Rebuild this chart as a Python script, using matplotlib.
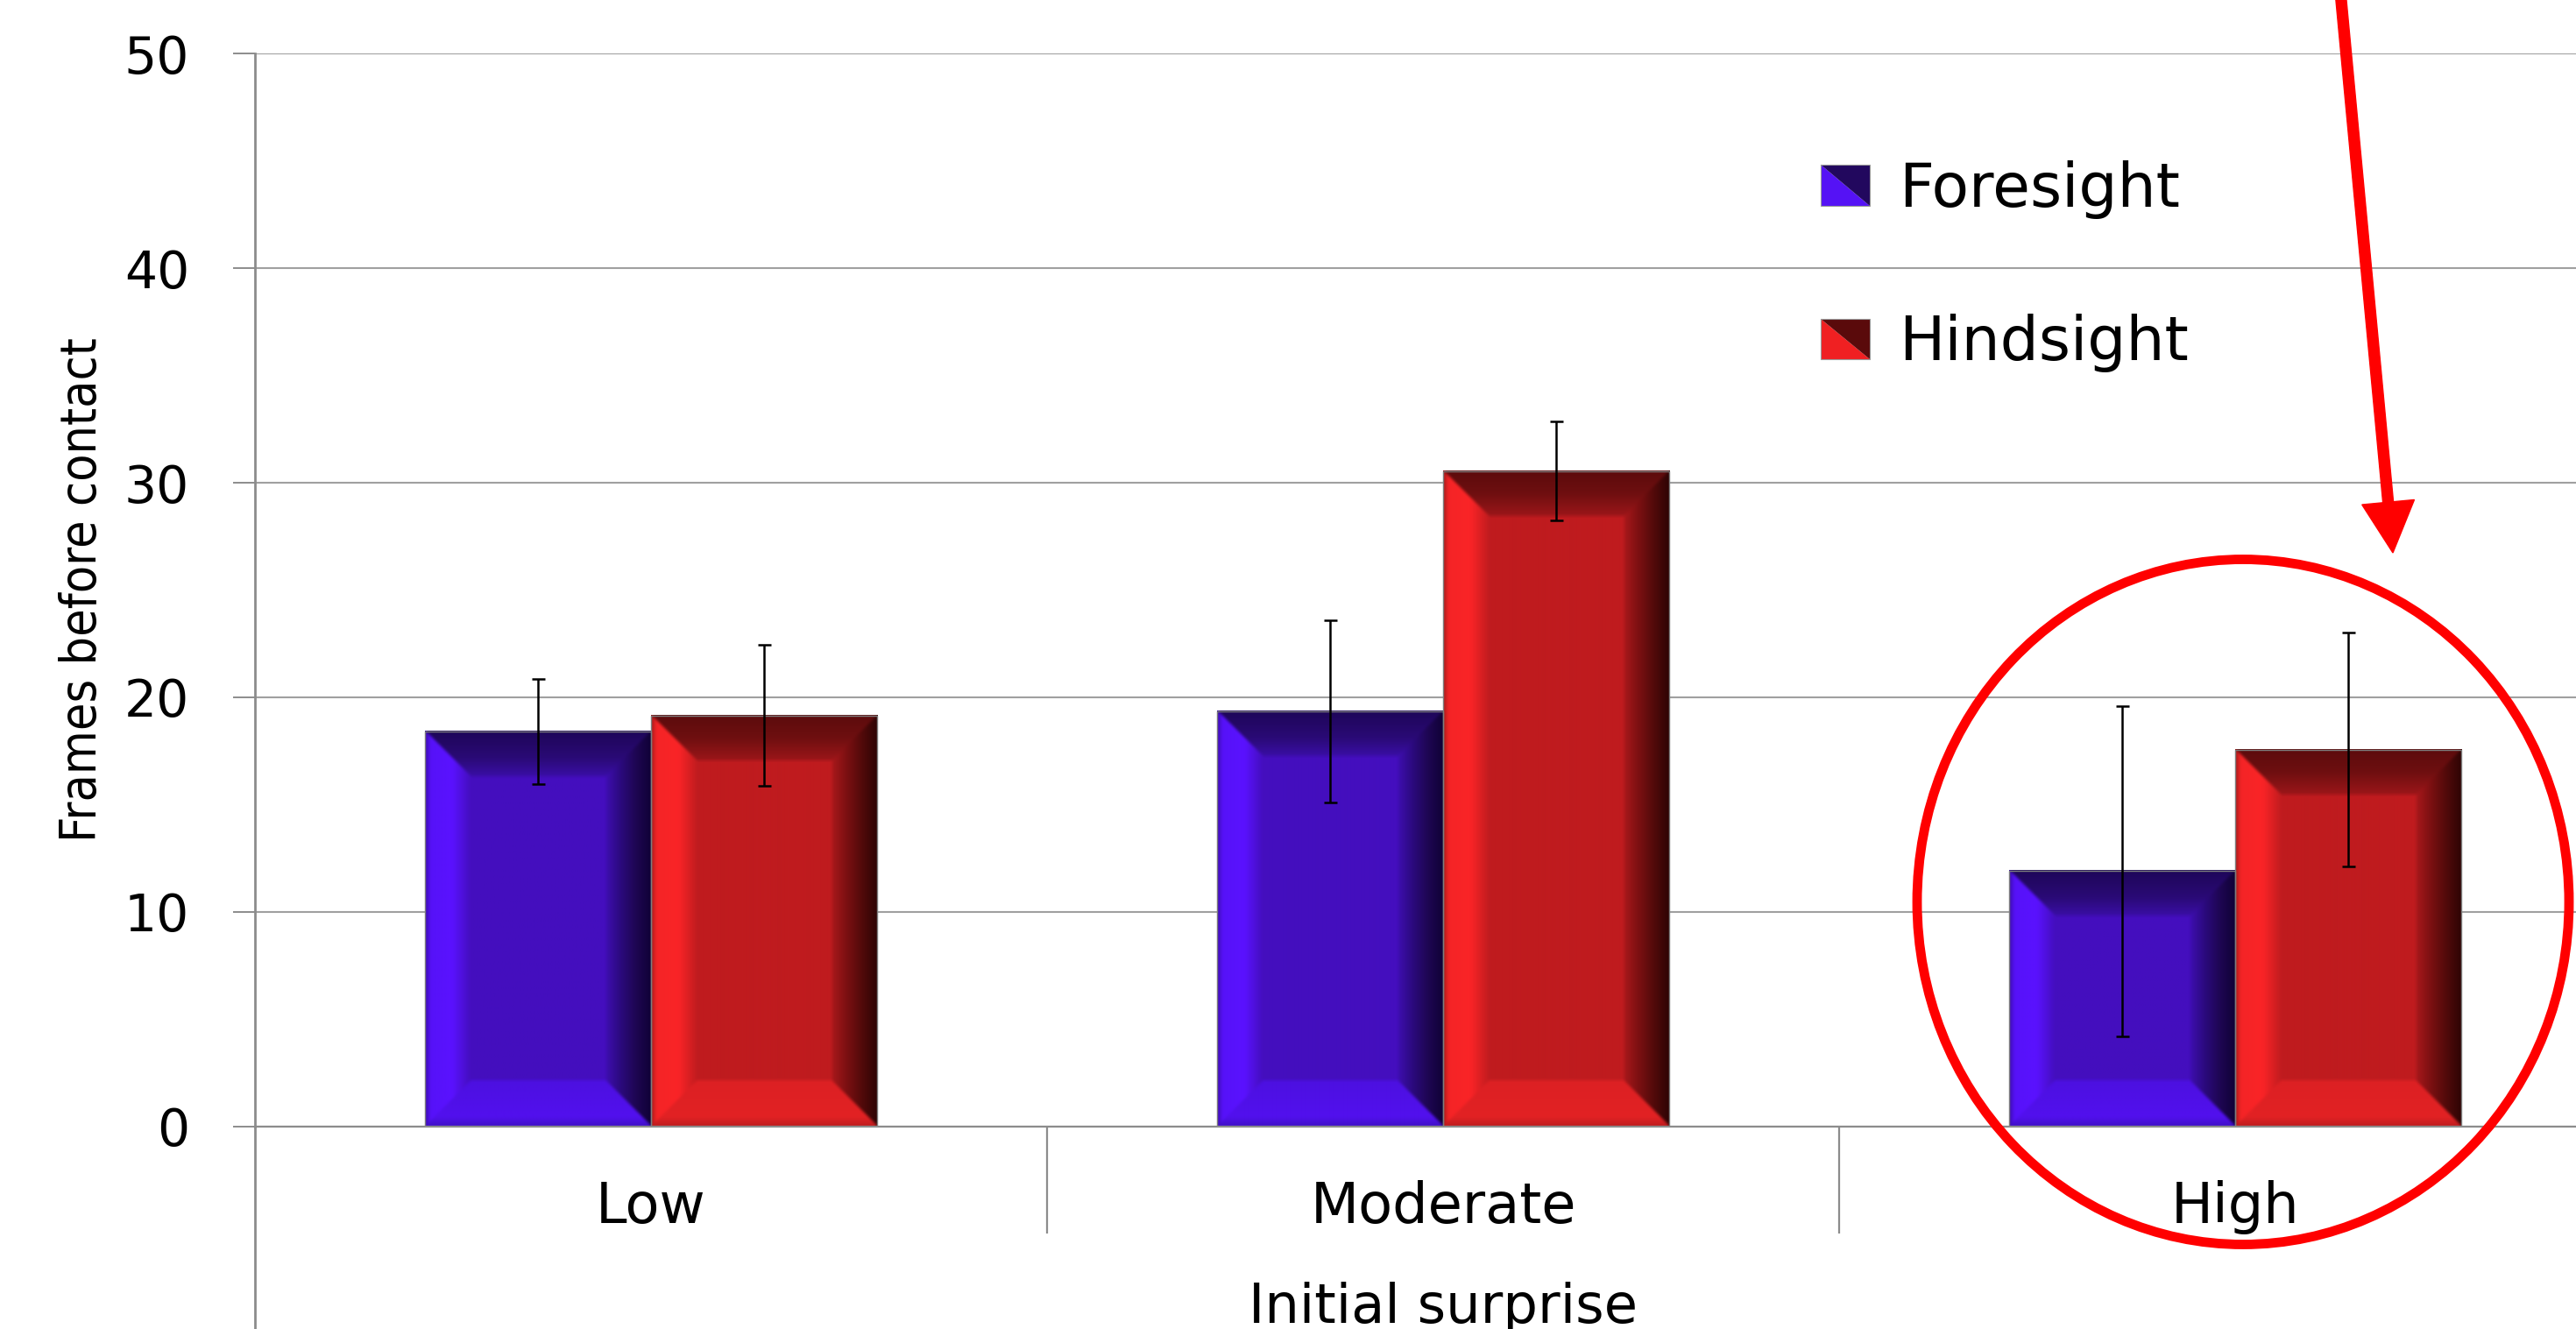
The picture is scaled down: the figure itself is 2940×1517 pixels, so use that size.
import numpy as np
import matplotlib
matplotlib.use('Agg')
import matplotlib.pyplot as plt
from matplotlib import font_manager
from matplotlib.patches import Patch, Polygon, Rectangle, Ellipse, FancyArrow
from matplotlib.legend_handler import HandlerBase
from matplotlib.transforms import Affine2D

# data
categories = ['Low', 'Moderate', 'High']
series_names = ['Foresight', 'Hindsight']
foresight = [18.4, 19.35, 11.9]
foresight_err = [2.45, 4.25, 7.7]
hindsight = [19.15, 30.55, 17.55]
hindsight_err = [3.3, 2.3, 5.45]
y_ticks = [0, 10, 20, 30, 40, 50]

# canvas geometry (pixels)
FIG_W, FIG_H = 2940, 1517
AX_LEFT, AX_TOP, AX_BOTTOM = 291, 61.5, 1285.5
CAT_PX = 904
PX_PER_UNIT = (AX_BOTTOM - AX_TOP) / 50.0
BEVEL = 52

violet = {
    'center': '#440ebe',
    'left':   [(0, '#3a0ca8'), (0.12, '#5612f8'), (0.6, '#5a12ff'), (1, '#440ebe')],
    'right':  [(0, '#0f0135'), (0.35, '#1e0652'), (0.7, '#2c0a80'), (1, '#3e0eb0')],
    'top':    [(0, '#1e0658'), (0.6, '#2a0a76'), (1, '#3a0ea6')],
    'bottom': [(0, '#4010c8'), (0.2, '#5210ee'), (1, '#4c10e0')],
    'swatch': ('#5512f5', '#22085e'),
}
crimson = {
    'center': '#bf1b1f',
    'left':   [(0, '#a01a1a'), (0.12, '#f42426'), (0.6, '#fa2427'), (1, '#c21c1f')],
    'right':  [(0, '#2c0404'), (0.35, '#520a0a'), (0.7, '#7e1012'), (1, '#a8181b')],
    'top':    [(0, '#5c0b0c'), (0.5, '#6e0f10'), (1, '#9c1619')],
    'bottom': [(0, '#c01c1e'), (0.2, '#e22224'), (1, '#dc2023')],
    'swatch': ('#f02022', '#5a0a0b'),
}


def hex_rgb(h):
    return np.array([int(h[i:i + 2], 16) for i in (1, 3, 5)]) / 255.0


def ramp(stops, t):
    ts = [s[0] for s in stops]
    cols = np.array([hex_rgb(s[1]) for s in stops])
    return np.stack([np.interp(t, ts, cols[:, k]) for k in range(3)], axis=-1)


def soften(img, r):
    out = img.copy()
    for axis in (0, 1):
        pad = [(0, 0)] * 3
        pad[axis] = (r, r)
        p = np.pad(out, pad, mode='edge')
        n = out.shape[axis]
        out = sum(np.take(p, range(k, k + n), axis=axis) for k in range(2 * r + 1)) / (2 * r + 1)
    return out


def bevel_image(w, h, style, b=BEVEL):
    jj, ii = np.meshgrid(np.arange(w) + 0.5, np.arange(h) + 0.5)
    d = np.stack([jj, w - jj, ii, h - ii])  # left, right, top, bottom
    side = d.argmin(axis=0)
    dmin = d.min(axis=0)
    img = np.empty((h, w, 3))
    img[:] = hex_rgb(style['center'])
    for k, name in enumerate(['left', 'right', 'top', 'bottom']):
        m = (side == k) & (dmin < b)
        img[m] = ramp(style[name], dmin[m] / b)
    return soften(img, 2)


class BevelSwatch(HandlerBase):
    def __init__(self, light, dark):
        super().__init__()
        self.light = light
        self.dark = dark

    def create_artists(self, legend, orig_handle, xdescent, ydescent,
                       width, height, fontsize, trans):
        x0, y0 = -xdescent, -ydescent
        lower = Polygon([(x0, y0 + height), (x0, y0), (x0 + width, y0)],
                        closed=True, facecolor=self.light, edgecolor='none', transform=trans)
        upper = Polygon([(x0, y0 + height), (x0 + width, y0 + height), (x0 + width, y0)],
                        closed=True, facecolor=self.dark, edgecolor='none', transform=trans)
        frame = Rectangle((x0, y0), width, height, facecolor='none',
                          edgecolor='#9a9a9a', lw=0.8, transform=trans)
        return [lower, upper, frame]


def narrow_font():
    names = [(f.name, f.stretch) for f in font_manager.fontManager.ttflist]
    if any(n == 'Liberation Sans Narrow' for n, _ in names):
        return {'family': 'Liberation Sans Narrow', 'size': 51}
    if any(n == 'DejaVu Sans' and s == 'condensed' for n, s in names):
        return {'family': 'DejaVu Sans', 'stretch': 'condensed', 'size': 41}
    return {'family': 'DejaVu Sans', 'size': 37}


plt.rcParams['font.family'] = ['DejaVu Sans']
fig = plt.figure(figsize=(FIG_W / 100, FIG_H / 100), dpi=100)
ax = fig.add_axes([AX_LEFT / FIG_W, (FIG_H - AX_BOTTOM) / FIG_H,
                   3 * CAT_PX / FIG_W, (AX_BOTTOM - AX_TOP) / FIG_H])

x = np.arange(len(categories))
bw = 1 / 3.5
for offset, vals, errs, style in [(-bw / 2, foresight, foresight_err, violet),
                                  (bw / 2, hindsight, hindsight_err, crimson)]:
    xs = x + offset
    bars = ax.bar(xs, vals, width=bw, color=style['center'], edgecolor='none', zorder=2)
    for rect in bars:
        w_px = int(round(rect.get_width() * CAT_PX))
        h_px = int(round(rect.get_height() * PX_PER_UNIT))
        ax.imshow(bevel_image(w_px, h_px, style), origin='upper', aspect='auto',
                  interpolation='bilinear', zorder=2.1,
                  extent=(rect.get_x(), rect.get_x() + rect.get_width(), 0, rect.get_height()))
    ax.bar(xs, vals, width=bw, facecolor='none', edgecolor='#7d7d7d', lw=1.0, zorder=2.2)
    ax.errorbar(xs, vals, yerr=errs, fmt='none', ecolor='black', elinewidth=1.8,
                capsize=5.4, capthick=1.8, zorder=4)

ax.set_xlim(-0.5, 2.5)
ax.set_ylim(0, 50)
ax.set_yticks(y_ticks)
ax.yaxis.grid(True, color='#a0a0a0', lw=1.5)
ax.set_axisbelow(True)
for s in ['top', 'right']:
    ax.spines[s].set_visible(False)
ax.spines['left'].set_color('#8c8c8c')
ax.spines['left'].set_linewidth(2)
ax.spines['bottom'].set_color('#8c8c8c')
ax.spines['bottom'].set_linewidth(1.6)
ax.tick_params(axis='y', length=18, width=1.4, color='#8c8c8c', pad=36, labelsize=42)

ax.set_xticks(x)
ax.set_xticklabels(categories)
ax.tick_params(axis='x', which='major', length=0, pad=44, labelsize=46)
ax.set_xticks([0.5, 1.5], minor=True)
ax.tick_params(axis='x', which='minor', length=88, width=1.6, color='#8c8c8c')
# outer category box line continues below the value axis
ax.plot([-0.5, -0.5], [0, -0.25], transform=ax.get_xaxis_transform(),
        color='#8c8c8c', lw=2, clip_on=False)
ax.set_xlim(-0.5, 2.5)

ax.set_xlabel('Initial surprise', fontsize=45)
ax.xaxis.set_label_coords(0.5, -0.145)
ax.set_ylabel('Frames before contact', fontdict=narrow_font())
ax.yaxis.set_label_coords(-0.0623, 0.5)

hf = Patch(label=series_names[0])
hh = Patch(label=series_names[1])
ax.legend(handles=[hf, hh],
          handler_map={hf: BevelSwatch(*violet['swatch']), hh: BevelSwatch(*crimson['swatch'])},
          loc='upper left', bbox_to_anchor=(2078 / FIG_W, 1 - 183 / FIG_H),
          bbox_transform=fig.transFigure, frameon=False, fontsize=50,
          handlelength=0.81, handleheight=0.65, handletextpad=0.48,
          labelspacing=1.56, borderpad=0, borderaxespad=0)

# red callout circling the High group
px = Affine2D().scale(1 / 100) + fig.dpi_scale_trans
fig.add_artist(Ellipse((2560, FIG_H - 1029.5), 744, 782, transform=px,
                       fill=False, edgecolor='#ff0000', lw=7.8))
fig.add_artist(FancyArrow(2671, FIG_H + 10, 60, 886 - (FIG_H + 10), width=12,
                          head_width=60, head_length=58, length_includes_head=True,
                          color='#ff0000', transform=px))

fig.savefig('out.png', dpi=100)
